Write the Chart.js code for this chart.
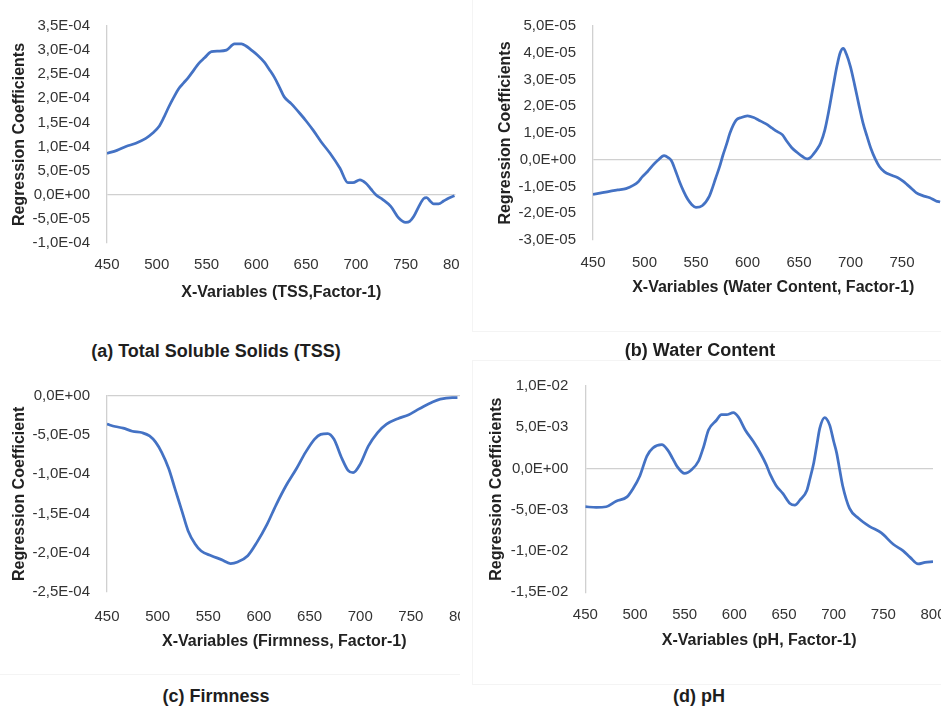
<!DOCTYPE html>
<html>
<head>
<meta charset="utf-8">
<script src="https://cdn.jsdelivr.net/npm/chart.js@4.4.1/dist/chart.umd.min.js"></script>
<style>
  html, body { margin: 0; padding: 0; background: #fff; overflow: hidden; }
  body { width: 941px; height: 709px; position: relative; font-family: 'Liberation Sans', Arial, sans-serif; }
  .panel { position: absolute; overflow: hidden; }
  .panel canvas { position: absolute; left: 0; top: 0; }
  .caption { position: absolute; transform: translate(-50%, -50%); font-weight: bold; font-size: 18px; color: #1e1e1e; white-space: nowrap; }
  .frame { position: absolute; border: 1px solid #f4f4f4; box-sizing: border-box; }
</style>
</head>
<body>
<div class="frame" style="left:472px; top:-2px; width:480px; height:334px;"></div>
<div class="frame" style="left:472px; top:360px; width:480px; height:325px;"></div>
<div class="frame" style="left:-2px; top:380px; width:462px; height:295px; border-top:none; border-right:none;"></div>

<div class="panel" id="pa" style="left:0px; top:0px; width:460px; height:310px;"><canvas id="ca" width="481" height="310"></canvas></div>
<div class="panel" id="pb" style="left:470px; top:0px; width:471px; height:330px;"><canvas id="cb" width="510" height="330"></canvas></div>
<div class="panel" id="pc" style="left:0px; top:370px; width:460px; height:300px;"><canvas id="cc" width="490" height="300"></canvas></div>
<div class="panel" id="pd" style="left:470px; top:360px; width:471px; height:320px;"><canvas id="cd" width="490" height="320"></canvas></div>

<div class="caption" style="left:216px; top:351px;">(a) Total Soluble Solids (TSS)</div>
<div class="caption" style="left:700px; top:350px;">(b) Water Content</div>
<div class="caption" style="left:216px; top:696px;">(c) Firmness</div>
<div class="caption" style="left:699px; top:696px;">(d) pH</div>

<script>
// Wavelength ticks shared by every panel
const wavelengthTicks = [450, 500, 550, 600, 650, 700, 750, 800];

// (a) Total Soluble Solids, coefficients in units of 1e-4
const tssScale = 1e-4;
const tssWavelength = [450,460,469,479,489,496,502,507,512,517,522,527,532,537,542,548,555,562,570,578,585,590,595,601,608,613,618,623,628,635,644,650,657,665,674,684,692,697,704,710,715,720,727,735,743,750,754,758,763,768,771,775,778,783,788,793,799];
const tssCoef = [0.86,0.92,1.00,1.07,1.17,1.28,1.41,1.60,1.82,2.02,2.20,2.32,2.44,2.58,2.72,2.84,2.97,2.98,3.00,3.13,3.13,3.08,3.00,2.90,2.75,2.60,2.44,2.24,2.03,1.89,1.68,1.53,1.34,1.10,0.86,0.55,0.25,0.25,0.31,0.24,0.12,0.00,-0.10,-0.24,-0.48,-0.57,-0.55,-0.45,-0.25,-0.08,-0.06,-0.14,-0.19,-0.19,-0.13,-0.07,-0.02];
const tssTicks = [-1.0e-4,-5.0e-5,0,5.0e-5,1.0e-4,1.5e-4,2.0e-4,2.5e-4,3.0e-4,3.5e-4];

// (b) Water content, coefficients in units of 1e-5
const waterScale = 1e-5;
const waterWavelength = [450,458,466,474,482,489,494,498,503,508,513,519,523,526,530,534,538,542,546,550,556,563,566,569,573,576,580,583,589,594,600,606,611,618,624,629,634,638,643,648,653,658,661,664,668,671,675,679,683,687,690,693,696,700,704,708,712,716,720,724,728,733,740,746,751,755,760,764,770,777,783,787];
const waterCoef = [-1.30,-1.24,-1.18,-1.13,-1.08,-0.96,-0.82,-0.63,-0.44,-0.21,-0.02,0.15,0.08,-0.03,-0.40,-0.82,-1.18,-1.48,-1.68,-1.78,-1.72,-1.36,-1.05,-0.70,-0.25,0.15,0.62,1.00,1.48,1.58,1.64,1.58,1.48,1.34,1.18,1.05,0.93,0.70,0.45,0.28,0.13,0.03,0.08,0.21,0.42,0.63,1.10,1.84,2.70,3.53,4.00,4.16,3.95,3.47,2.80,2.08,1.40,0.88,0.40,0.03,-0.25,-0.45,-0.58,-0.67,-0.80,-0.93,-1.10,-1.24,-1.34,-1.42,-1.54,-1.58];
const waterTicks = [-3.0e-5,-2.0e-5,-1.0e-5,0,1.0e-5,2.0e-5,3.0e-5,4.0e-5,5.0e-5];

// (c) Firmness, coefficients in units of 1e-4
const firmScale = 1e-4;
const firmWavelength = [450,458,466,475,485,492,498,504,511,517,524,530,537,543,553,563,572,579,589,598,608,617,627,637,646,655,661,668,674,682,688,693,700,708,717,726,737,748,756,763,771,779,791,796];
const firmCoef = [-0.36,-0.39,-0.41,-0.45,-0.47,-0.51,-0.59,-0.72,-0.93,-1.18,-1.47,-1.72,-1.89,-1.98,-2.04,-2.09,-2.14,-2.12,-2.04,-1.87,-1.64,-1.39,-1.14,-0.93,-0.72,-0.55,-0.49,-0.48,-0.55,-0.80,-0.95,-0.98,-0.87,-0.64,-0.47,-0.36,-0.29,-0.24,-0.18,-0.13,-0.08,-0.04,-0.02,-0.02];
const firmTicks = [-2.5e-4,-2.0e-4,-1.5e-4,-1.0e-4,-5.0e-5,0];

// (d) pH, coefficients in units of 1e-3
const phScale = 1e-3;
const phWavelength = [450,461,471,481,492,498,505,512,518,527,533,538,542,550,557,564,569,574,582,587,592,599,604,611,619,627,632,636,642,649,656,661,666,673,676,680,683,686,691,696,700,703,706,709,716,725,736,748,760,770,777,785,792,800];
const phCoef = [-4.63,-4.71,-4.63,-3.96,-3.44,-2.46,-0.87,1.51,2.49,2.89,2.22,1.20,0.32,-0.59,-0.15,0.91,2.60,4.67,5.85,6.53,6.53,6.77,6.26,4.67,3.29,1.70,0.50,-0.68,-2.05,-3.05,-4.24,-4.43,-3.84,-2.65,-1.30,0.71,2.80,4.87,6.18,5.26,3.30,1.90,-0.10,-2.05,-4.83,-6.02,-7.00,-7.80,-9.18,-9.98,-10.77,-11.56,-11.37,-11.28];
const phTicks = [-1.5e-2,-1.0e-2,-5.0e-3,0,5.0e-3,1.0e-2];

const lineColor = '#4472C4';
const axisGray = '#d0d0d0';
Chart.defaults.font.family = "'Liberation Sans', Arial, sans-serif";

// Decimal-comma scientific notation: 3,5E-04
function sciLabel(v) {
  if (Math.abs(v) < 1e-15) return '0,0E+00';
  let e = Math.floor(Math.log10(Math.abs(v)) + 1e-9);
  let m = v / Math.pow(10, e);
  if (Math.abs(Math.round(m * 10) / 10) >= 10) { m /= 10; e += 1; }
  return m.toFixed(1).replace('.', ',') + 'E' + (e < 0 ? '-' : '+') + String(Math.abs(e)).padStart(2, '0');
}

function makePanel(cfg) {
  const points = cfg.x.map((w, i) => ({ x: w, y: cfg.y[i] * cfg.scale }));
  const yTicks = cfg.yTicks;
  return new Chart(document.getElementById(cfg.canvas), {
    type: 'line',
    data: { datasets: [{ data: points, borderColor: lineColor, borderWidth: 2.75, pointRadius: 0, fill: false, cubicInterpolationMode: 'monotone' }] },
    options: {
      responsive: false,
      animation: false,
      events: [],
      layout: { padding: { left: 0, top: cfg.top, right: cfg.right, bottom: cfg.bottom } },
      plugins: { legend: { display: false }, tooltip: { enabled: false } },
      scales: {
        x: {
          type: 'linear', min: 450, max: 800,
          afterBuildTicks: s => { s.ticks = wavelengthTicks.map(v => ({ value: v })); },
          afterFit: s => { s.height = cfg.xH; },
          grid: { display: false, drawTicks: false },
          border: { display: false },
          ticks: { padding: cfg.xPad, color: '#333', font: { size: 15 }, maxRotation: 0, autoSkip: false, callback: v => String(v) },
          title: { display: true, text: cfg.xTitle, color: '#222', font: { size: 16, weight: 'bold' }, padding: { top: 0, bottom: 0 } }
        },
        y: {
          type: 'linear', min: yTicks[0], max: yTicks[yTicks.length - 1],
          afterBuildTicks: s => { s.ticks = yTicks.map(v => ({ value: v })); },
          afterFit: s => { s.width = cfg.yW; },
          grid: { drawTicks: false, lineWidth: 1.3, color: c => (c.tick && Math.abs(c.tick.value) < 1e-15) ? axisGray : 'rgba(0,0,0,0)' },
          border: { display: true, color: axisGray, width: 1.3 },
          ticks: { padding: 17, color: '#333', font: { size: 15 }, autoSkip: false, callback: v => sciLabel(v) },
          title: { display: true, text: cfg.yTitle, color: '#222', font: { size: 16, weight: 'bold' }, padding: { top: cfg.yTitlePad, bottom: 0 } }
        }
      }
    }
  });
}

makePanel({ canvas: 'ca', x: tssWavelength, y: tssCoef, scale: tssScale, yTicks: tssTicks,
  xTitle: 'X-Variables (TSS,Factor-1)', yTitle: 'Regression Coefficients',
  top: 25, right: 20.5, bottom: 7.4, yW: 107, xH: 59.6, xPad: 13, yTitlePad: 10.4 });

makePanel({ canvas: 'cb', x: waterWavelength, y: waterCoef, scale: waterScale, yTicks: waterTicks,
  xTitle: 'X-Variables (Water Content, Factor-1)', yTitle: 'Regression Coefficients',
  top: 19.5, right: 23, bottom: 32.4, yW: 123, xH: 57.6, xPad: 14, yTitlePad: 26.4 });

makePanel({ canvas: 'cc', x: firmWavelength, y: firmCoef, scale: firmScale, yTicks: firmTicks,
  xTitle: 'X-Variables (Firmness, Factor-1)', yTitle: 'Regression Coefficient',
  top: 22.7, right: 21.8, bottom: 18.7, yW: 107, xH: 59.6, xPad: 16, yTitlePad: 10.4 });

makePanel({ canvas: 'cd', x: phWavelength, y: phCoef, scale: phScale, yTicks: phTicks,
  xTitle: 'X-Variables (pH, Factor-1)', yTitle: 'Regression Coefficients',
  top: 21.7, right: 27, bottom: 29.4, yW: 115.3, xH: 58.3, xPad: 13.7, yTitlePad: 17.1 });
</script>
</body>
</html>
